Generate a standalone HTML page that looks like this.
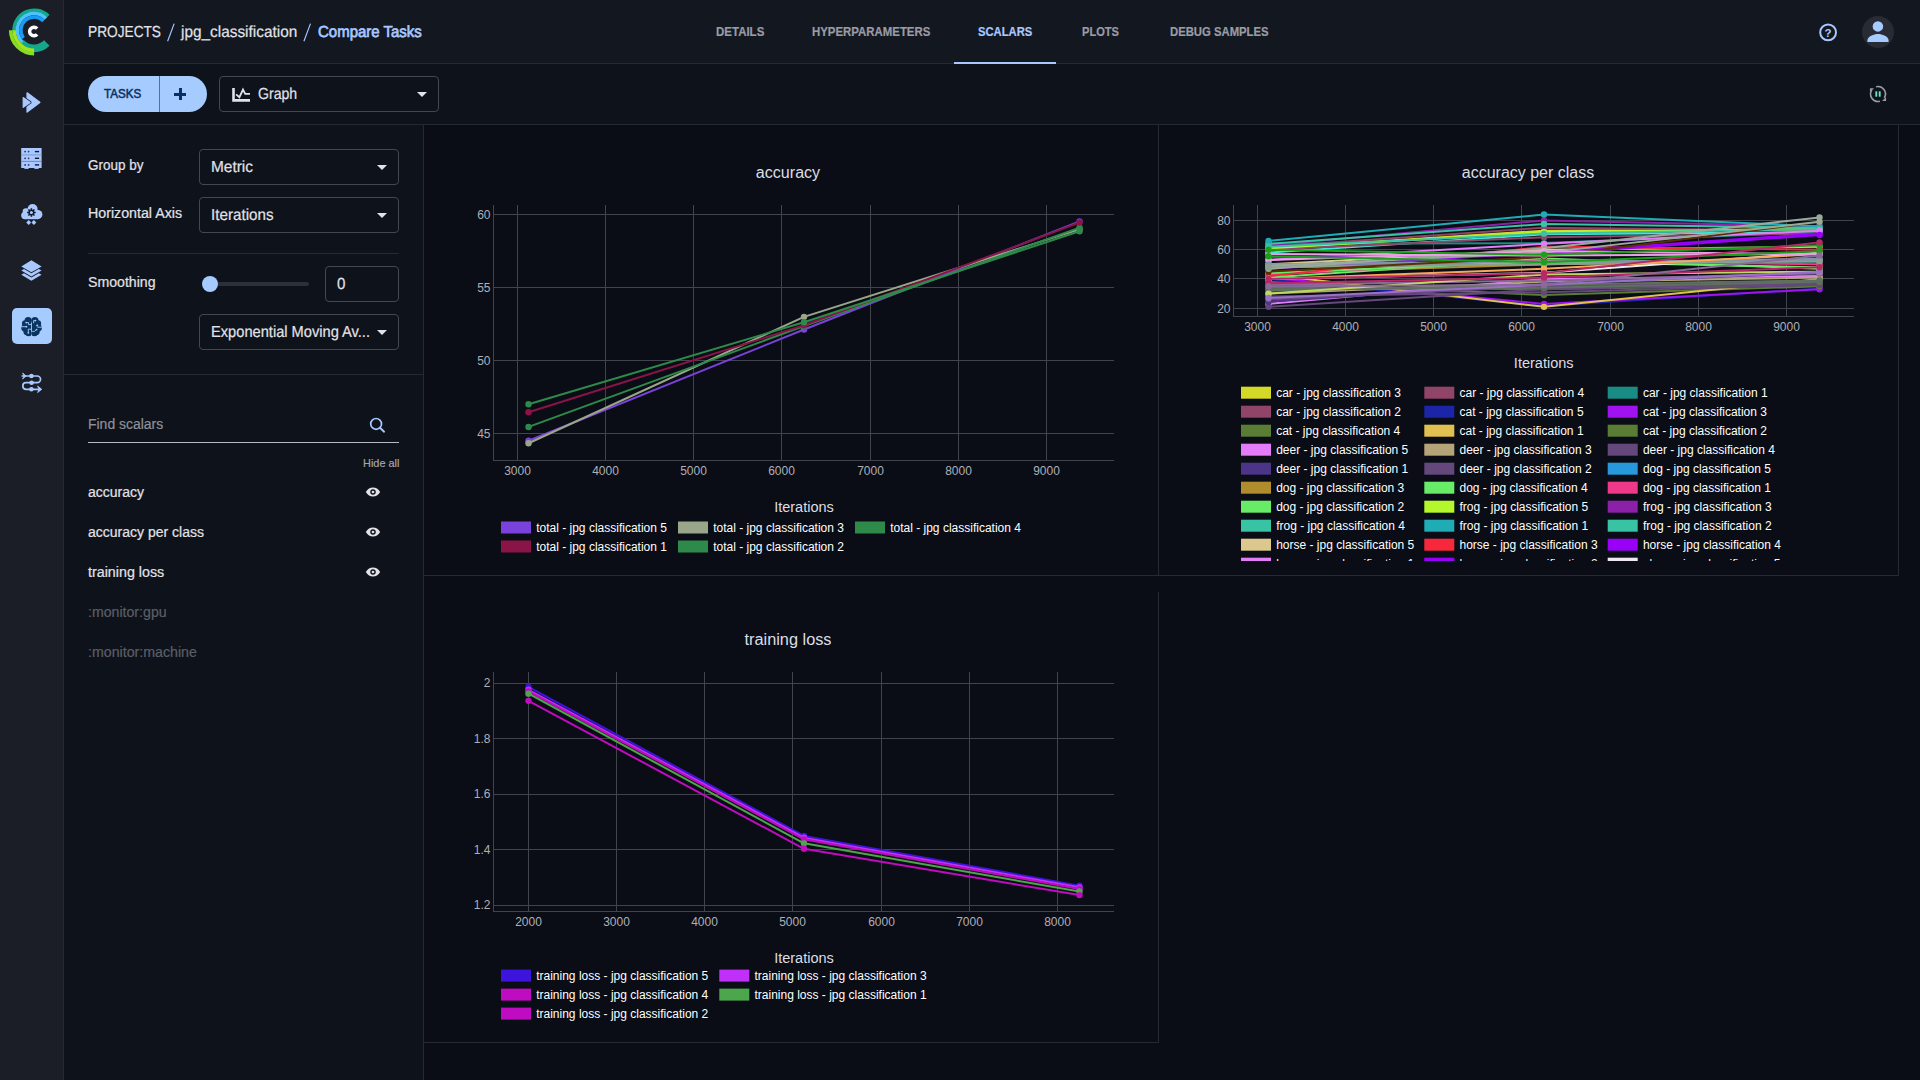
<!DOCTYPE html>
<html><head><meta charset="utf-8"><title>ClearML</title>
<style>
html,body{margin:0;padding:0;background:#0e121a;width:1920px;height:1080px;overflow:hidden;font-family:"Liberation Sans",sans-serif;}
.t{position:absolute;height:20px;line-height:20px;white-space:nowrap;transform-origin:0 50%;-webkit-text-stroke:0.2px currentColor;}
</style></head><body>
<div style="position:absolute;left:0px;top:0px;width:1920px;height:1080px;background:#0e121a"></div>
<div style="position:absolute;left:424px;top:125px;width:1496px;height:955px;background:#0a0d15"></div>
<div style="position:absolute;left:64px;top:0px;width:1856px;height:63px;background:#131720"></div>
<div style="position:absolute;left:64px;top:63px;width:1856px;height:1px;background:#252934"></div>
<div style="position:absolute;left:64px;top:124px;width:1856px;height:1px;background:#252934"></div>
<div style="position:absolute;left:0px;top:0px;width:63px;height:1080px;background:#1b1e26"></div>
<div style="position:absolute;left:63px;top:0px;width:1px;height:1080px;background:#252934"></div>
<div style="position:absolute;left:423px;top:125px;width:1px;height:955px;background:#252934"></div>
<div style="position:absolute;left:64px;top:374px;width:359px;height:1px;background:#252934"></div>
<div style="position:absolute;left:1158px;top:125px;width:1px;height:451px;background:#252934"></div>
<div style="position:absolute;left:424px;top:575px;width:1475px;height:1px;background:#252934"></div>
<div style="position:absolute;left:1898px;top:125px;width:1px;height:451px;background:#252934"></div>
<div style="position:absolute;left:1158px;top:592px;width:1px;height:451px;background:#252934"></div>
<div style="position:absolute;left:424px;top:1042px;width:735px;height:1px;background:#252934"></div>
<div class="t" style="left:88.25px;top:23px;font-size:16px;color:#e2e2e9;transform-origin:0 15px;transform:scale(0.8554,1.0000);text-rendering:geometricPrecision;">PROJECTS</div>
<svg style="position:absolute;left:160px;top:18px" width="160" height="28" viewBox="160 18 160 28"><path d="M167.6 41.2 L174.2 23.6" stroke="#a8c8ff" stroke-width="1.15"/><path d="M303.9 41.2 L310.5 23.6" stroke="#a8c8ff" stroke-width="1.15"/></svg>
<div class="t" style="left:181.25px;top:23px;font-size:16px;color:#e2e2e9;transform-origin:0 15px;transform:scale(0.9612,1.0000);text-rendering:geometricPrecision;">jpg_classification</div>
<div class="t" style="left:317.75px;top:23px;font-size:16px;color:#a8c8ff;-webkit-text-stroke:0.7px #a8c8ff;transform-origin:0 15px;transform:scale(0.9368,1.0000);text-rendering:geometricPrecision;">Compare Tasks</div>
<div class="t" style="left:715.70px;top:22px;font-size:12px;color:#9a9ca5;font-weight:700;transform-origin:0 14px;transform:scale(0.9575,1.0000);">DETAILS</div>
<div class="t" style="left:811.70px;top:22px;font-size:12px;color:#9a9ca5;font-weight:700;transform-origin:0 14px;transform:scale(0.9505,1.0000);">HYPERPARAMETERS</div>
<div class="t" style="left:977.70px;top:22px;font-size:12px;color:#a8c8ff;font-weight:700;transform-origin:0 14px;transform:scale(0.9362,1.0000);">SCALARS</div>
<div class="t" style="left:1082.30px;top:22px;font-size:12px;color:#9a9ca5;font-weight:700;transform-origin:0 14px;transform:scale(0.9250,1.0000);">PLOTS</div>
<div class="t" style="left:1169.70px;top:22px;font-size:12px;color:#9a9ca5;font-weight:700;transform-origin:0 14px;transform:scale(0.9419,1.0000);">DEBUG SAMPLES</div>
<div style="position:absolute;left:954px;top:62px;width:102px;height:2px;background:#a8c8ff"></div>
<svg style="position:absolute;left:1816px;top:20px" width="24" height="24" viewBox="1816 20 24 24"><circle cx="1828.1" cy="32.4" r="7.9" fill="none" stroke="#a8c8ff" stroke-width="2"/><text x="1828.1" y="36.6" text-anchor="middle" font-family="Liberation Sans" font-weight="700" font-size="11.5" fill="#a8c8ff">?</text></svg>
<div style="position:absolute;left:1862px;top:16px;width:32px;height:32px;background:#282b34;border-radius:50%"></div>
<svg style="position:absolute;left:1862px;top:16px" width="32" height="32" viewBox="0 0 32 32"><circle cx="15.9" cy="10.4" r="5.25" fill="#a6cbff"/><path d="M5.4 26.1 v-1.6 c0-4.4 6.6-6.6 10.6-6.6 s10.6 2.2 10.6 6.6 v1.6z" fill="#a6cbff"/></svg>
<div style="position:absolute;left:88px;top:76px;width:119px;height:36px;background:#a6cbff;border-radius:18px"></div>
<div style="position:absolute;left:159px;top:76px;width:1px;height:36px;background:#6f6b66"></div>
<div class="t" style="left:104.40px;top:84px;font-size:12px;color:#0a305f;-webkit-text-stroke:0.5px #0a305f;transform-origin:0 14px;transform:scale(0.9647,1.0000);">TASKS</div>
<div style="position:absolute;left:174.0px;top:92.7px;width:12.0px;height:3.0px;background:#0a305f"></div>
<div style="position:absolute;left:178.5px;top:88.2px;width:3.0px;height:12.0px;background:#0a305f"></div>
<div style="position:absolute;left:219px;top:76px;width:219px;height:35px;border:1px solid #44474e;border-radius:4px;box-sizing:content-box;width:217.5px;height:34px"></div>
<svg style="position:absolute;left:230px;top:85px" width="24" height="20" viewBox="230 85 24 20"><path d="M233.5 87.9 V100.4 H250" fill="none" stroke="#e2e2e9" stroke-width="2.6"/><path d="M236.1 94.4 L239.4 97.2 L243 89.6 L245.2 93.8 L250 93.8" fill="none" stroke="#e2e2e9" stroke-width="1.8" stroke-linejoin="miter"/></svg>
<div class="t" style="left:258.40px;top:85px;font-size:16px;color:#e2e2e9;transform-origin:0 15px;transform:scale(0.8816,1.0000);text-rendering:geometricPrecision;">Graph</div>
<svg style="position:absolute;left:417px;top:92.0px" width="10" height="5" viewBox="0 0 10 5"><path d="M0 0H10L5 5z" fill="#e2e2e9"/></svg>
<svg style="position:absolute;left:1866px;top:82px" width="24" height="24" viewBox="-12 -12 24 24"><g fill="none" stroke="#9a9ca8" stroke-width="1.6"><path d="M-1.92 -7.15A7.4 7.4 0 0 1 6.28 3.92"/><path d="M1.92 7.15A7.4 7.4 0 0 1 -6.28 -3.92"/></g><path d="M8.05 6.95H4.15L8.05 3.05z" fill="#9a9ca8"/><path d="M-8.05 -5.85H-3.9L-8.05 -1.95z" fill="#9a9ca8"/><rect x="-2.65" y="-2.8" width="1.9" height="5.6" rx="0.6" fill="#6fe0c0"/><rect x="0.75" y="-2.8" width="1.9" height="5.6" rx="0.6" fill="#6fe0c0"/></svg>
<div class="t" style="left:88.00px;top:155px;font-size:14px;color:#e2e2e9;transform-origin:0 15px;transform:scale(0.9639,1.0000);">Group by</div>
<div style="position:absolute;left:199px;top:149px;width:198px;height:34px;border:1px solid #44474e;border-radius:4px"></div>
<div class="t" style="left:211.00px;top:158px;font-size:16px;color:#e2e2e9;transform-origin:0 15px;transform:scale(0.9644,1.0000);text-rendering:geometricPrecision;">Metric</div>
<svg style="position:absolute;left:377px;top:165.0px" width="10" height="5" viewBox="0 0 10 5"><path d="M0 0H10L5 5z" fill="#e2e2e9"/></svg>
<div class="t" style="left:88.00px;top:203px;font-size:14px;color:#e2e2e9;transform-origin:0 15px;transform:scale(1.0152,1.0000);">Horizontal Axis</div>
<div style="position:absolute;left:199px;top:197px;width:198px;height:34px;border:1px solid #44474e;border-radius:4px"></div>
<div class="t" style="left:211.00px;top:206px;font-size:16px;color:#e2e2e9;transform-origin:0 15px;transform:scale(0.9497,1.0000);text-rendering:geometricPrecision;">Iterations</div>
<svg style="position:absolute;left:377px;top:213.0px" width="10" height="5" viewBox="0 0 10 5"><path d="M0 0H10L5 5z" fill="#e2e2e9"/></svg>
<div style="position:absolute;left:88px;top:253px;width:311px;height:1px;background:#252934"></div>
<div class="t" style="left:88.00px;top:272px;font-size:14px;color:#e2e2e9;transform-origin:0 15px;transform:scale(1.0086,1.0000);">Smoothing</div>
<div style="position:absolute;left:210px;top:282px;width:99px;height:4px;background:#2c3039;border-radius:2px"></div>
<div style="position:absolute;left:202px;top:276px;width:16px;height:16px;background:#a6cbff;border-radius:50%"></div>
<div style="position:absolute;left:325px;top:266px;width:72px;height:34px;border:1px solid #44474e;border-radius:4px"></div>
<div class="t" style="left:337.00px;top:275px;font-size:16px;color:#e2e2e9;transform-origin:0 15px;transform:scale(0.9441,1.0000);text-rendering:geometricPrecision;">0</div>
<div style="position:absolute;left:199px;top:314px;width:198px;height:34px;border:1px solid #44474e;border-radius:4px"></div>
<div class="t" style="left:211.00px;top:323px;font-size:16px;color:#e2e2e9;transform-origin:0 15px;transform:scale(0.9152,1.0000);text-rendering:geometricPrecision;">Exponential Moving Av...</div>
<svg style="position:absolute;left:377px;top:330.0px" width="10" height="5" viewBox="0 0 10 5"><path d="M0 0H10L5 5z" fill="#e2e2e9"/></svg>
<div class="t" style="left:88.20px;top:414px;font-size:14px;color:#8e9099;transform-origin:0 15px;transform:scale(0.9965,1.0000);">Find scalars</div>
<svg style="position:absolute;left:366px;top:414px" width="24" height="24" viewBox="366 414 24 24"><circle cx="376.1" cy="423.9" r="5.4" fill="none" stroke="#a8c8ff" stroke-width="1.7"/><path d="M380 427.8 L384.1 431.7" stroke="#a8c8ff" stroke-width="1.9" stroke-linecap="round"/></svg>
<div style="position:absolute;left:88px;top:442px;width:311px;height:1px;background:#b9bbc4"></div>
<div class="t" style="left:362.60px;top:453px;font-size:11px;color:#a3a5ae;transform-origin:0 14px;transform:scale(0.9923,1.0000);">Hide all</div>
<div class="t" style="left:88.00px;top:482px;font-size:14px;color:#e2e2e9;">accuracy</div>
<svg style="position:absolute;left:365px;top:486.2px" width="16" height="12" viewBox="-8 -6 16 12"><path d="M-7.15 0 C-5.4 -3.2 -2.8 -4.45 0 -4.45 S5.4 -3.2 7.15 0 C5.4 3.2 2.8 4.45 0 4.45 S-5.4 3.2 -7.15 0z" fill="#e2e2e9"/><circle cx="0" cy="0" r="2.75" fill="#0e121a"/><circle cx="0" cy="0" r="1.35" fill="#e2e2e9"/></svg>
<div class="t" style="left:88.00px;top:522px;font-size:14px;color:#e2e2e9;">accuracy per class</div>
<svg style="position:absolute;left:365px;top:526.2px" width="16" height="12" viewBox="-8 -6 16 12"><path d="M-7.15 0 C-5.4 -3.2 -2.8 -4.45 0 -4.45 S5.4 -3.2 7.15 0 C5.4 3.2 2.8 4.45 0 4.45 S-5.4 3.2 -7.15 0z" fill="#e2e2e9"/><circle cx="0" cy="0" r="2.75" fill="#0e121a"/><circle cx="0" cy="0" r="1.35" fill="#e2e2e9"/></svg>
<div class="t" style="left:88.00px;top:562px;font-size:14px;color:#e2e2e9;transform-origin:0 15px;transform:scale(1.0201,1.0000);">training loss</div>
<svg style="position:absolute;left:365px;top:566.2px" width="16" height="12" viewBox="-8 -6 16 12"><path d="M-7.15 0 C-5.4 -3.2 -2.8 -4.45 0 -4.45 S5.4 -3.2 7.15 0 C5.4 3.2 2.8 4.45 0 4.45 S-5.4 3.2 -7.15 0z" fill="#e2e2e9"/><circle cx="0" cy="0" r="2.75" fill="#0e121a"/><circle cx="0" cy="0" r="1.35" fill="#e2e2e9"/></svg>
<div class="t" style="left:88.00px;top:602px;font-size:14px;color:#5c5e67;transform-origin:0 15px;transform:scale(1.0101,1.0000);">:monitor:gpu</div>
<div class="t" style="left:88.00px;top:642px;font-size:14px;color:#5c5e67;transform-origin:0 15px;transform:scale(1.0142,1.0000);">:monitor:machine</div>
<svg style="position:absolute;left:0;top:0" width="1920" height="1080" viewBox="0 0 1920 1080" font-family="Liberation Sans, sans-serif"><path d="M517.5 205V460" stroke="#41444d" stroke-width="1"/>
<text x="517.50" y="474.80" font-size="12" fill="#aeb0b9" text-anchor="middle">3000</text>
<path d="M605.5 205V460" stroke="#41444d" stroke-width="1"/>
<text x="605.50" y="474.80" font-size="12" fill="#aeb0b9" text-anchor="middle">4000</text>
<path d="M693.5 205V460" stroke="#41444d" stroke-width="1"/>
<text x="693.50" y="474.80" font-size="12" fill="#aeb0b9" text-anchor="middle">5000</text>
<path d="M781.5 205V460" stroke="#41444d" stroke-width="1"/>
<text x="781.50" y="474.80" font-size="12" fill="#aeb0b9" text-anchor="middle">6000</text>
<path d="M870.5 205V460" stroke="#41444d" stroke-width="1"/>
<text x="870.50" y="474.80" font-size="12" fill="#aeb0b9" text-anchor="middle">7000</text>
<path d="M958.5 205V460" stroke="#41444d" stroke-width="1"/>
<text x="958.50" y="474.80" font-size="12" fill="#aeb0b9" text-anchor="middle">8000</text>
<path d="M1046.5 205V460" stroke="#41444d" stroke-width="1"/>
<text x="1046.50" y="474.80" font-size="12" fill="#aeb0b9" text-anchor="middle">9000</text>
<path d="M493 433.5H1114" stroke="#41444d" stroke-width="1"/>
<text x="490.50" y="437.74" font-size="12" fill="#aeb0b9" text-anchor="end">45</text>
<path d="M493 360.5H1114" stroke="#41444d" stroke-width="1"/>
<text x="490.50" y="364.74" font-size="12" fill="#aeb0b9" text-anchor="end">50</text>
<path d="M493 287.5H1114" stroke="#41444d" stroke-width="1"/>
<text x="490.50" y="291.74" font-size="12" fill="#aeb0b9" text-anchor="end">55</text>
<path d="M493 214.5H1114" stroke="#41444d" stroke-width="1"/>
<text x="490.50" y="218.74" font-size="12" fill="#aeb0b9" text-anchor="end">60</text>
<path d="M493.5 205V461" stroke="#41444d" stroke-width="1"/>
<path d="M493 460.5H1114" stroke="#41444d" stroke-width="1"/>
<path d="M528.52 440.80 L804.02 329.55 L1079.52 221.36" fill="none" stroke="#7a42dc" stroke-width="2" stroke-linejoin="round"/>
<circle cx="528.52" cy="440.80" r="3.2" fill="#7a42dc"/>
<circle cx="804.02" cy="329.55" r="3.2" fill="#7a42dc"/>
<circle cx="1079.52" cy="221.36" r="3.2" fill="#7a42dc"/>
<path d="M528.52 443.28 L804.02 316.85 L1079.52 229.39" fill="none" stroke="#9aa68a" stroke-width="2" stroke-linejoin="round"/>
<circle cx="528.52" cy="443.28" r="3.2" fill="#9aa68a"/>
<circle cx="804.02" cy="316.85" r="3.2" fill="#9aa68a"/>
<circle cx="1079.52" cy="229.39" r="3.2" fill="#9aa68a"/>
<path d="M528.52 426.93 L804.02 326.04 L1079.52 227.64" fill="none" stroke="#2e8a4a" stroke-width="2" stroke-linejoin="round"/>
<circle cx="528.52" cy="426.93" r="3.2" fill="#2e8a4a"/>
<circle cx="804.02" cy="326.04" r="3.2" fill="#2e8a4a"/>
<circle cx="1079.52" cy="227.64" r="3.2" fill="#2e8a4a"/>
<path d="M528.52 412.18 L804.02 325.31 L1079.52 222.53" fill="none" stroke="#8a1448" stroke-width="2" stroke-linejoin="round"/>
<circle cx="528.52" cy="412.18" r="3.2" fill="#8a1448"/>
<circle cx="804.02" cy="325.31" r="3.2" fill="#8a1448"/>
<circle cx="1079.52" cy="222.53" r="3.2" fill="#8a1448"/>
<path d="M528.52 404.30 L804.02 322.25 L1079.52 231.29" fill="none" stroke="#2e8a4a" stroke-width="2" stroke-linejoin="round"/>
<circle cx="528.52" cy="404.30" r="3.2" fill="#2e8a4a"/>
<circle cx="804.02" cy="322.25" r="3.2" fill="#2e8a4a"/>
<circle cx="1079.52" cy="231.29" r="3.2" fill="#2e8a4a"/>
<text x="788.00" y="177.60" font-size="16" fill="#dddde5" text-anchor="middle" textLength="64.30" lengthAdjust="spacingAndGlyphs">accuracy</text>
<text x="804.00" y="511.80" font-size="14" fill="#dddde5" text-anchor="middle" textLength="59.70" lengthAdjust="spacingAndGlyphs">Iterations</text>
<rect x="501" y="521.5" width="30" height="12" fill="#7a42dc"/>
<text x="536.20" y="531.80" font-size="12" fill="#ffffff" text-anchor="start">total - jpg classification 5</text>
<rect x="678" y="521.5" width="30" height="12" fill="#9aa68a"/>
<text x="713.20" y="531.80" font-size="12" fill="#ffffff" text-anchor="start">total - jpg classification 3</text>
<rect x="855" y="521.5" width="30" height="12" fill="#2e8a4a"/>
<text x="890.20" y="531.80" font-size="12" fill="#ffffff" text-anchor="start">total - jpg classification 4</text>
<rect x="501" y="540.5" width="30" height="12" fill="#8a1448"/>
<text x="536.20" y="550.80" font-size="12" fill="#ffffff" text-anchor="start">total - jpg classification 1</text>
<rect x="678" y="540.5" width="30" height="12" fill="#2e8a4a"/>
<text x="713.20" y="550.80" font-size="12" fill="#ffffff" text-anchor="start">total - jpg classification 2</text>
<path d="M528.5 672V911" stroke="#41444d" stroke-width="1"/>
<text x="528.50" y="925.80" font-size="12" fill="#aeb0b9" text-anchor="middle">2000</text>
<path d="M616.5 672V911" stroke="#41444d" stroke-width="1"/>
<text x="616.50" y="925.80" font-size="12" fill="#aeb0b9" text-anchor="middle">3000</text>
<path d="M704.5 672V911" stroke="#41444d" stroke-width="1"/>
<text x="704.50" y="925.80" font-size="12" fill="#aeb0b9" text-anchor="middle">4000</text>
<path d="M792.5 672V911" stroke="#41444d" stroke-width="1"/>
<text x="792.50" y="925.80" font-size="12" fill="#aeb0b9" text-anchor="middle">5000</text>
<path d="M881.5 672V911" stroke="#41444d" stroke-width="1"/>
<text x="881.50" y="925.80" font-size="12" fill="#aeb0b9" text-anchor="middle">6000</text>
<path d="M969.5 672V911" stroke="#41444d" stroke-width="1"/>
<text x="969.50" y="925.80" font-size="12" fill="#aeb0b9" text-anchor="middle">7000</text>
<path d="M1057.5 672V911" stroke="#41444d" stroke-width="1"/>
<text x="1057.50" y="925.80" font-size="12" fill="#aeb0b9" text-anchor="middle">8000</text>
<path d="M493 905.5H1114" stroke="#41444d" stroke-width="1"/>
<text x="490.50" y="909.34" font-size="12" fill="#aeb0b9" text-anchor="end">1.2</text>
<path d="M493 849.5H1114" stroke="#41444d" stroke-width="1"/>
<text x="490.50" y="853.84" font-size="12" fill="#aeb0b9" text-anchor="end">1.4</text>
<path d="M493 794.5H1114" stroke="#41444d" stroke-width="1"/>
<text x="490.50" y="798.34" font-size="12" fill="#aeb0b9" text-anchor="end">1.6</text>
<path d="M493 738.5H1114" stroke="#41444d" stroke-width="1"/>
<text x="490.50" y="742.84" font-size="12" fill="#aeb0b9" text-anchor="end">1.8</text>
<path d="M493 683.5H1114" stroke="#41444d" stroke-width="1"/>
<text x="490.50" y="687.34" font-size="12" fill="#aeb0b9" text-anchor="end">2</text>
<path d="M493.5 672V912" stroke="#41444d" stroke-width="1"/>
<path d="M493 911.5H1114" stroke="#41444d" stroke-width="1"/>
<path d="M528.50 686.99 L804.00 835.86 L1079.50 885.67" fill="none" stroke="#3c14dc" stroke-width="2" stroke-linejoin="round"/>
<circle cx="528.50" cy="686.99" r="3.2" fill="#3c14dc"/>
<circle cx="804.00" cy="835.86" r="3.2" fill="#3c14dc"/>
<circle cx="1079.50" cy="885.67" r="3.2" fill="#3c14dc"/>
<path d="M528.50 689.76 L804.00 837.67 L1079.50 887.34" fill="none" stroke="#c030f8" stroke-width="2" stroke-linejoin="round"/>
<circle cx="528.50" cy="689.76" r="3.2" fill="#c030f8"/>
<circle cx="804.00" cy="837.67" r="3.2" fill="#c030f8"/>
<circle cx="1079.50" cy="887.34" r="3.2" fill="#c030f8"/>
<path d="M528.50 691.42 L804.00 839.33 L1079.50 889.00" fill="none" stroke="#c00cc0" stroke-width="2" stroke-linejoin="round"/>
<circle cx="528.50" cy="691.42" r="3.2" fill="#c00cc0"/>
<circle cx="804.00" cy="839.33" r="3.2" fill="#c00cc0"/>
<circle cx="1079.50" cy="889.00" r="3.2" fill="#c00cc0"/>
<path d="M528.50 693.64 L804.00 843.36 L1079.50 891.50" fill="none" stroke="#4ca64c" stroke-width="2" stroke-linejoin="round"/>
<circle cx="528.50" cy="693.64" r="3.2" fill="#4ca64c"/>
<circle cx="804.00" cy="843.36" r="3.2" fill="#4ca64c"/>
<circle cx="1079.50" cy="891.50" r="3.2" fill="#4ca64c"/>
<path d="M528.50 700.86 L804.00 848.77 L1079.50 895.11" fill="none" stroke="#c00cc0" stroke-width="2" stroke-linejoin="round"/>
<circle cx="528.50" cy="700.86" r="3.2" fill="#c00cc0"/>
<circle cx="804.00" cy="848.77" r="3.2" fill="#c00cc0"/>
<circle cx="1079.50" cy="895.11" r="3.2" fill="#c00cc0"/>
<text x="788.00" y="645.00" font-size="16" fill="#dddde5" text-anchor="middle" textLength="87.00" lengthAdjust="spacingAndGlyphs">training loss</text>
<text x="804.00" y="962.70" font-size="14" fill="#dddde5" text-anchor="middle" textLength="59.70" lengthAdjust="spacingAndGlyphs">Iterations</text>
<rect x="501" y="969.6" width="30" height="12" fill="#3c14dc"/>
<text x="536.20" y="979.90" font-size="12" fill="#ffffff" text-anchor="start">training loss - jpg classification 5</text>
<rect x="719.3" y="969.6" width="30" height="12" fill="#c030f8"/>
<text x="754.50" y="979.90" font-size="12" fill="#ffffff" text-anchor="start">training loss - jpg classification 3</text>
<rect x="501" y="988.6" width="30" height="12" fill="#c00cc0"/>
<text x="536.20" y="998.90" font-size="12" fill="#ffffff" text-anchor="start">training loss - jpg classification 4</text>
<rect x="719.3" y="988.6" width="30" height="12" fill="#4ca64c"/>
<text x="754.50" y="998.90" font-size="12" fill="#ffffff" text-anchor="start">training loss - jpg classification 1</text>
<rect x="501" y="1007.6" width="30" height="12" fill="#c00cc0"/>
<text x="536.20" y="1017.90" font-size="12" fill="#ffffff" text-anchor="start">training loss - jpg classification 2</text>
<path d="M1257.5 205V316" stroke="#41444d" stroke-width="1"/>
<text x="1257.50" y="330.80" font-size="12" fill="#aeb0b9" text-anchor="middle">3000</text>
<path d="M1345.5 205V316" stroke="#41444d" stroke-width="1"/>
<text x="1345.50" y="330.80" font-size="12" fill="#aeb0b9" text-anchor="middle">4000</text>
<path d="M1433.5 205V316" stroke="#41444d" stroke-width="1"/>
<text x="1433.50" y="330.80" font-size="12" fill="#aeb0b9" text-anchor="middle">5000</text>
<path d="M1521.5 205V316" stroke="#41444d" stroke-width="1"/>
<text x="1521.50" y="330.80" font-size="12" fill="#aeb0b9" text-anchor="middle">6000</text>
<path d="M1610.5 205V316" stroke="#41444d" stroke-width="1"/>
<text x="1610.50" y="330.80" font-size="12" fill="#aeb0b9" text-anchor="middle">7000</text>
<path d="M1698.5 205V316" stroke="#41444d" stroke-width="1"/>
<text x="1698.50" y="330.80" font-size="12" fill="#aeb0b9" text-anchor="middle">8000</text>
<path d="M1786.5 205V316" stroke="#41444d" stroke-width="1"/>
<text x="1786.50" y="330.80" font-size="12" fill="#aeb0b9" text-anchor="middle">9000</text>
<path d="M1233 308.5H1854" stroke="#41444d" stroke-width="1"/>
<text x="1230.50" y="312.53" font-size="12" fill="#aeb0b9" text-anchor="end">20</text>
<path d="M1233 278.5H1854" stroke="#41444d" stroke-width="1"/>
<text x="1230.50" y="283.23" font-size="12" fill="#aeb0b9" text-anchor="end">40</text>
<path d="M1233 249.5H1854" stroke="#41444d" stroke-width="1"/>
<text x="1230.50" y="253.93" font-size="12" fill="#aeb0b9" text-anchor="end">60</text>
<path d="M1233 220.5H1854" stroke="#41444d" stroke-width="1"/>
<text x="1230.50" y="224.63" font-size="12" fill="#aeb0b9" text-anchor="end">80</text>
<path d="M1233.5 205V317" stroke="#41444d" stroke-width="1"/>
<path d="M1233 316.5H1854" stroke="#41444d" stroke-width="1"/>
<path d="M1268.52 252.62 L1544.02 234.31 L1819.52 232.11" fill="none" stroke="#40e8d8" stroke-width="2" stroke-linejoin="round"/>
<circle cx="1268.52" cy="252.62" r="3.2" fill="#40e8d8"/>
<circle cx="1544.02" cy="234.31" r="3.2" fill="#40e8d8"/>
<circle cx="1819.52" cy="232.11" r="3.2" fill="#40e8d8"/>
<path d="M1268.52 248.23 L1544.02 230.65 L1819.52 229.18" fill="none" stroke="#d4d827" stroke-width="2" stroke-linejoin="round"/>
<circle cx="1268.52" cy="248.23" r="3.2" fill="#d4d827"/>
<circle cx="1544.02" cy="230.65" r="3.2" fill="#d4d827"/>
<circle cx="1819.52" cy="229.18" r="3.2" fill="#d4d827"/>
<path d="M1268.52 246.76 L1544.02 227.72 L1819.52 230.65" fill="none" stroke="#8f4468" stroke-width="2" stroke-linejoin="round"/>
<circle cx="1268.52" cy="246.76" r="3.2" fill="#8f4468"/>
<circle cx="1544.02" cy="227.72" r="3.2" fill="#8f4468"/>
<circle cx="1819.52" cy="230.65" r="3.2" fill="#8f4468"/>
<path d="M1268.52 243.83 L1544.02 243.10 L1819.52 232.11" fill="none" stroke="#198c84" stroke-width="2" stroke-linejoin="round"/>
<circle cx="1268.52" cy="243.83" r="3.2" fill="#198c84"/>
<circle cx="1544.02" cy="243.10" r="3.2" fill="#198c84"/>
<circle cx="1819.52" cy="232.11" r="3.2" fill="#198c84"/>
<path d="M1268.52 249.69 L1544.02 237.24 L1819.52 233.58" fill="none" stroke="#8f4468" stroke-width="2" stroke-linejoin="round"/>
<circle cx="1268.52" cy="249.69" r="3.2" fill="#8f4468"/>
<circle cx="1544.02" cy="237.24" r="3.2" fill="#8f4468"/>
<circle cx="1819.52" cy="233.58" r="3.2" fill="#8f4468"/>
<path d="M1268.52 278.99 L1544.02 306.09 L1819.52 288.51" fill="none" stroke="#1c24a8" stroke-width="2" stroke-linejoin="round"/>
<circle cx="1268.52" cy="278.99" r="3.2" fill="#1c24a8"/>
<circle cx="1544.02" cy="306.09" r="3.2" fill="#1c24a8"/>
<circle cx="1819.52" cy="288.51" r="3.2" fill="#1c24a8"/>
<path d="M1268.52 277.53 L1544.02 303.90 L1819.52 289.25" fill="none" stroke="#a012f0" stroke-width="2" stroke-linejoin="round"/>
<circle cx="1268.52" cy="277.53" r="3.2" fill="#a012f0"/>
<circle cx="1544.02" cy="303.90" r="3.2" fill="#a012f0"/>
<circle cx="1819.52" cy="289.25" r="3.2" fill="#a012f0"/>
<path d="M1268.52 281.92 L1544.02 295.11 L1819.52 286.31" fill="none" stroke="#5a7c34" stroke-width="2" stroke-linejoin="round"/>
<circle cx="1268.52" cy="281.92" r="3.2" fill="#5a7c34"/>
<circle cx="1544.02" cy="295.11" r="3.2" fill="#5a7c34"/>
<circle cx="1819.52" cy="286.31" r="3.2" fill="#5a7c34"/>
<path d="M1268.52 274.60 L1544.02 306.83 L1819.52 278.99" fill="none" stroke="#e0c050" stroke-width="2" stroke-linejoin="round"/>
<circle cx="1268.52" cy="274.60" r="3.2" fill="#e0c050"/>
<circle cx="1544.02" cy="306.83" r="3.2" fill="#e0c050"/>
<circle cx="1819.52" cy="278.99" r="3.2" fill="#e0c050"/>
<path d="M1268.52 287.78 L1544.02 289.25 L1819.52 284.85" fill="none" stroke="#5a7c34" stroke-width="2" stroke-linejoin="round"/>
<circle cx="1268.52" cy="287.78" r="3.2" fill="#5a7c34"/>
<circle cx="1544.02" cy="289.25" r="3.2" fill="#5a7c34"/>
<circle cx="1819.52" cy="284.85" r="3.2" fill="#5a7c34"/>
<path d="M1268.52 303.90 L1544.02 278.99 L1819.52 276.06" fill="none" stroke="#e47cfa" stroke-width="2" stroke-linejoin="round"/>
<circle cx="1268.52" cy="303.90" r="3.2" fill="#e47cfa"/>
<circle cx="1544.02" cy="278.99" r="3.2" fill="#e47cfa"/>
<circle cx="1819.52" cy="276.06" r="3.2" fill="#e47cfa"/>
<path d="M1268.52 293.64 L1544.02 281.92 L1819.52 277.53" fill="none" stroke="#b4a478" stroke-width="2" stroke-linejoin="round"/>
<circle cx="1268.52" cy="293.64" r="3.2" fill="#b4a478"/>
<circle cx="1544.02" cy="281.92" r="3.2" fill="#b4a478"/>
<circle cx="1819.52" cy="277.53" r="3.2" fill="#b4a478"/>
<path d="M1268.52 306.83 L1544.02 289.25 L1819.52 283.38" fill="none" stroke="#64487c" stroke-width="2" stroke-linejoin="round"/>
<circle cx="1268.52" cy="306.83" r="3.2" fill="#64487c"/>
<circle cx="1544.02" cy="289.25" r="3.2" fill="#64487c"/>
<circle cx="1819.52" cy="283.38" r="3.2" fill="#64487c"/>
<path d="M1268.52 301.70 L1544.02 283.38 L1819.52 273.13" fill="none" stroke="#4c3488" stroke-width="2" stroke-linejoin="round"/>
<circle cx="1268.52" cy="301.70" r="3.2" fill="#4c3488"/>
<circle cx="1544.02" cy="283.38" r="3.2" fill="#4c3488"/>
<circle cx="1819.52" cy="273.13" r="3.2" fill="#4c3488"/>
<path d="M1268.52 299.50 L1544.02 286.31 L1819.52 281.92" fill="none" stroke="#64487c" stroke-width="2" stroke-linejoin="round"/>
<circle cx="1268.52" cy="299.50" r="3.2" fill="#64487c"/>
<circle cx="1544.02" cy="286.31" r="3.2" fill="#64487c"/>
<circle cx="1819.52" cy="281.92" r="3.2" fill="#64487c"/>
<path d="M1268.52 267.27 L1544.02 261.41 L1819.52 261.41" fill="none" stroke="#2898dc" stroke-width="2" stroke-linejoin="round"/>
<circle cx="1268.52" cy="267.27" r="3.2" fill="#2898dc"/>
<circle cx="1544.02" cy="261.41" r="3.2" fill="#2898dc"/>
<circle cx="1819.52" cy="261.41" r="3.2" fill="#2898dc"/>
<path d="M1268.52 273.13 L1544.02 264.34 L1819.52 259.94" fill="none" stroke="#b08c2c" stroke-width="2" stroke-linejoin="round"/>
<circle cx="1268.52" cy="273.13" r="3.2" fill="#b08c2c"/>
<circle cx="1544.02" cy="264.34" r="3.2" fill="#b08c2c"/>
<circle cx="1819.52" cy="259.94" r="3.2" fill="#b08c2c"/>
<path d="M1268.52 277.53 L1544.02 258.48 L1819.52 268.74" fill="none" stroke="#68ec68" stroke-width="2" stroke-linejoin="round"/>
<circle cx="1268.52" cy="277.53" r="3.2" fill="#68ec68"/>
<circle cx="1544.02" cy="258.48" r="3.2" fill="#68ec68"/>
<circle cx="1819.52" cy="268.74" r="3.2" fill="#68ec68"/>
<path d="M1268.52 274.60 L1544.02 259.94 L1819.52 264.34" fill="none" stroke="#f03888" stroke-width="2" stroke-linejoin="round"/>
<circle cx="1268.52" cy="274.60" r="3.2" fill="#f03888"/>
<circle cx="1544.02" cy="259.94" r="3.2" fill="#f03888"/>
<circle cx="1819.52" cy="264.34" r="3.2" fill="#f03888"/>
<path d="M1268.52 273.13 L1544.02 261.41 L1819.52 267.27" fill="none" stroke="#68ec68" stroke-width="2" stroke-linejoin="round"/>
<circle cx="1268.52" cy="273.13" r="3.2" fill="#68ec68"/>
<circle cx="1544.02" cy="261.41" r="3.2" fill="#68ec68"/>
<circle cx="1819.52" cy="267.27" r="3.2" fill="#68ec68"/>
<path d="M1268.52 248.23 L1544.02 232.11 L1819.52 229.18" fill="none" stroke="#b4f82c" stroke-width="2" stroke-linejoin="round"/>
<circle cx="1268.52" cy="248.23" r="3.2" fill="#b4f82c"/>
<circle cx="1544.02" cy="232.11" r="3.2" fill="#b4f82c"/>
<circle cx="1819.52" cy="229.18" r="3.2" fill="#b4f82c"/>
<path d="M1268.52 245.30 L1544.02 220.39 L1819.52 226.25" fill="none" stroke="#8c20a8" stroke-width="2" stroke-linejoin="round"/>
<circle cx="1268.52" cy="245.30" r="3.2" fill="#8c20a8"/>
<circle cx="1544.02" cy="220.39" r="3.2" fill="#8c20a8"/>
<circle cx="1819.52" cy="226.25" r="3.2" fill="#8c20a8"/>
<path d="M1268.52 243.83 L1544.02 224.05 L1819.52 227.72" fill="none" stroke="#38c4a4" stroke-width="2" stroke-linejoin="round"/>
<circle cx="1268.52" cy="243.83" r="3.2" fill="#38c4a4"/>
<circle cx="1544.02" cy="224.05" r="3.2" fill="#38c4a4"/>
<circle cx="1819.52" cy="227.72" r="3.2" fill="#38c4a4"/>
<path d="M1268.52 240.90 L1544.02 214.53 L1819.52 226.25" fill="none" stroke="#20acb4" stroke-width="2" stroke-linejoin="round"/>
<circle cx="1268.52" cy="240.90" r="3.2" fill="#20acb4"/>
<circle cx="1544.02" cy="214.53" r="3.2" fill="#20acb4"/>
<circle cx="1819.52" cy="226.25" r="3.2" fill="#20acb4"/>
<path d="M1268.52 246.76 L1544.02 233.58 L1819.52 229.18" fill="none" stroke="#38c4a4" stroke-width="2" stroke-linejoin="round"/>
<circle cx="1268.52" cy="246.76" r="3.2" fill="#38c4a4"/>
<circle cx="1544.02" cy="233.58" r="3.2" fill="#38c4a4"/>
<circle cx="1819.52" cy="229.18" r="3.2" fill="#38c4a4"/>
<path d="M1268.52 264.34 L1544.02 249.69 L1819.52 246.76" fill="none" stroke="#dcc88c" stroke-width="2" stroke-linejoin="round"/>
<circle cx="1268.52" cy="264.34" r="3.2" fill="#dcc88c"/>
<circle cx="1544.02" cy="249.69" r="3.2" fill="#dcc88c"/>
<circle cx="1819.52" cy="246.76" r="3.2" fill="#dcc88c"/>
<path d="M1268.52 276.06 L1544.02 246.76 L1819.52 249.69" fill="none" stroke="#f8283c" stroke-width="2" stroke-linejoin="round"/>
<circle cx="1268.52" cy="276.06" r="3.2" fill="#f8283c"/>
<circle cx="1544.02" cy="246.76" r="3.2" fill="#f8283c"/>
<circle cx="1819.52" cy="249.69" r="3.2" fill="#f8283c"/>
<path d="M1268.52 268.74 L1544.02 252.62 L1819.52 233.58" fill="none" stroke="#9800f8" stroke-width="2" stroke-linejoin="round"/>
<circle cx="1268.52" cy="268.74" r="3.2" fill="#9800f8"/>
<circle cx="1544.02" cy="252.62" r="3.2" fill="#9800f8"/>
<circle cx="1819.52" cy="233.58" r="3.2" fill="#9800f8"/>
<path d="M1268.52 259.94 L1544.02 243.83 L1819.52 230.65" fill="none" stroke="#e47cfa" stroke-width="2" stroke-linejoin="round"/>
<circle cx="1268.52" cy="259.94" r="3.2" fill="#e47cfa"/>
<circle cx="1544.02" cy="243.83" r="3.2" fill="#e47cfa"/>
<circle cx="1819.52" cy="230.65" r="3.2" fill="#e47cfa"/>
<path d="M1268.52 257.01 L1544.02 254.09 L1819.52 235.04" fill="none" stroke="#9800f8" stroke-width="2" stroke-linejoin="round"/>
<circle cx="1268.52" cy="257.01" r="3.2" fill="#9800f8"/>
<circle cx="1544.02" cy="254.09" r="3.2" fill="#9800f8"/>
<circle cx="1819.52" cy="235.04" r="3.2" fill="#9800f8"/>
<path d="M1268.52 296.57 L1544.02 292.18 L1819.52 284.85" fill="none" stroke="#64487c" stroke-width="2" stroke-linejoin="round"/>
<circle cx="1268.52" cy="296.57" r="3.2" fill="#64487c"/>
<circle cx="1544.02" cy="292.18" r="3.2" fill="#64487c"/>
<circle cx="1819.52" cy="284.85" r="3.2" fill="#64487c"/>
<path d="M1268.52 289.25 L1544.02 287.78 L1819.52 281.92" fill="none" stroke="#607060" stroke-width="2" stroke-linejoin="round"/>
<circle cx="1268.52" cy="289.25" r="3.2" fill="#607060"/>
<circle cx="1544.02" cy="287.78" r="3.2" fill="#607060"/>
<circle cx="1819.52" cy="281.92" r="3.2" fill="#607060"/>
<path d="M1268.52 290.71 L1544.02 284.85 L1819.52 280.46" fill="none" stroke="#607060" stroke-width="2" stroke-linejoin="round"/>
<circle cx="1268.52" cy="290.71" r="3.2" fill="#607060"/>
<circle cx="1544.02" cy="284.85" r="3.2" fill="#607060"/>
<circle cx="1819.52" cy="280.46" r="3.2" fill="#607060"/>
<path d="M1268.52 284.85 L1544.02 280.46 L1819.52 273.13" fill="none" stroke="#8a6a9a" stroke-width="2" stroke-linejoin="round"/>
<circle cx="1268.52" cy="284.85" r="3.2" fill="#8a6a9a"/>
<circle cx="1544.02" cy="280.46" r="3.2" fill="#8a6a9a"/>
<circle cx="1819.52" cy="273.13" r="3.2" fill="#8a6a9a"/>
<path d="M1268.52 278.99 L1544.02 272.84 L1819.52 252.62" fill="none" stroke="#f0e8f0" stroke-width="2" stroke-linejoin="round"/>
<circle cx="1268.52" cy="278.99" r="3.2" fill="#f0e8f0"/>
<circle cx="1544.02" cy="272.84" r="3.2" fill="#f0e8f0"/>
<circle cx="1819.52" cy="252.62" r="3.2" fill="#f0e8f0"/>
<path d="M1268.52 265.81 L1544.02 264.34 L1819.52 258.48" fill="none" stroke="#8094a8" stroke-width="2" stroke-linejoin="round"/>
<circle cx="1268.52" cy="265.81" r="3.2" fill="#8094a8"/>
<circle cx="1544.02" cy="264.34" r="3.2" fill="#8094a8"/>
<circle cx="1819.52" cy="258.48" r="3.2" fill="#8094a8"/>
<path d="M1268.52 264.34 L1544.02 261.41 L1819.52 259.94" fill="none" stroke="#8094a8" stroke-width="2" stroke-linejoin="round"/>
<circle cx="1268.52" cy="264.34" r="3.2" fill="#8094a8"/>
<circle cx="1544.02" cy="261.41" r="3.2" fill="#8094a8"/>
<circle cx="1819.52" cy="259.94" r="3.2" fill="#8094a8"/>
<path d="M1268.52 267.27 L1544.02 264.34 L1819.52 261.41" fill="none" stroke="#8aa08a" stroke-width="2" stroke-linejoin="round"/>
<circle cx="1268.52" cy="267.27" r="3.2" fill="#8aa08a"/>
<circle cx="1544.02" cy="264.34" r="3.2" fill="#8aa08a"/>
<circle cx="1819.52" cy="261.41" r="3.2" fill="#8aa08a"/>
<path d="M1268.52 271.67 L1544.02 257.01 L1819.52 221.86" fill="none" stroke="#5a3000" stroke-width="2" stroke-linejoin="round"/>
<circle cx="1268.52" cy="271.67" r="3.2" fill="#5a3000"/>
<circle cx="1544.02" cy="257.01" r="3.2" fill="#5a3000"/>
<circle cx="1819.52" cy="221.86" r="3.2" fill="#5a3000"/>
<path d="M1268.52 268.74 L1544.02 248.23 L1819.52 217.46" fill="none" stroke="#9aaa9a" stroke-width="2" stroke-linejoin="round"/>
<circle cx="1268.52" cy="268.74" r="3.2" fill="#9aaa9a"/>
<circle cx="1544.02" cy="248.23" r="3.2" fill="#9aaa9a"/>
<circle cx="1819.52" cy="217.46" r="3.2" fill="#9aaa9a"/>
<path d="M1268.52 265.81 L1544.02 252.62 L1819.52 221.86" fill="none" stroke="#9aaa9a" stroke-width="2" stroke-linejoin="round"/>
<circle cx="1268.52" cy="265.81" r="3.2" fill="#9aaa9a"/>
<circle cx="1544.02" cy="252.62" r="3.2" fill="#9aaa9a"/>
<circle cx="1819.52" cy="221.86" r="3.2" fill="#9aaa9a"/>
<path d="M1268.52 293.64 L1544.02 274.60 L1819.52 271.67" fill="none" stroke="#c0d860" stroke-width="2" stroke-linejoin="round"/>
<circle cx="1268.52" cy="293.64" r="3.2" fill="#c0d860"/>
<circle cx="1544.02" cy="274.60" r="3.2" fill="#c0d860"/>
<circle cx="1819.52" cy="271.67" r="3.2" fill="#c0d860"/>
<path d="M1268.52 298.04 L1544.02 284.85 L1819.52 271.67" fill="none" stroke="#9a70c8" stroke-width="2" stroke-linejoin="round"/>
<circle cx="1268.52" cy="298.04" r="3.2" fill="#9a70c8"/>
<circle cx="1544.02" cy="284.85" r="3.2" fill="#9a70c8"/>
<circle cx="1819.52" cy="271.67" r="3.2" fill="#9a70c8"/>
<path d="M1268.52 278.99 L1544.02 268.74 L1819.52 254.09" fill="none" stroke="#f8a858" stroke-width="2" stroke-linejoin="round"/>
<circle cx="1268.52" cy="278.99" r="3.2" fill="#f8a858"/>
<circle cx="1544.02" cy="268.74" r="3.2" fill="#f8a858"/>
<circle cx="1819.52" cy="254.09" r="3.2" fill="#f8a858"/>
<path d="M1268.52 259.94 L1544.02 251.16 L1819.52 254.09" fill="none" stroke="#e8a0e0" stroke-width="2" stroke-linejoin="round"/>
<circle cx="1268.52" cy="259.94" r="3.2" fill="#e8a0e0"/>
<circle cx="1544.02" cy="251.16" r="3.2" fill="#e8a0e0"/>
<circle cx="1819.52" cy="254.09" r="3.2" fill="#e8a0e0"/>
<path d="M1268.52 254.09 L1544.02 255.55 L1819.52 254.09" fill="none" stroke="#e8a0e0" stroke-width="2" stroke-linejoin="round"/>
<circle cx="1268.52" cy="254.09" r="3.2" fill="#e8a0e0"/>
<circle cx="1544.02" cy="255.55" r="3.2" fill="#e8a0e0"/>
<circle cx="1819.52" cy="254.09" r="3.2" fill="#e8a0e0"/>
<path d="M1268.52 249.69 L1544.02 254.82 L1819.52 245.30" fill="none" stroke="#1ca01c" stroke-width="2" stroke-linejoin="round"/>
<circle cx="1268.52" cy="249.69" r="3.2" fill="#1ca01c"/>
<circle cx="1544.02" cy="254.82" r="3.2" fill="#1ca01c"/>
<circle cx="1819.52" cy="245.30" r="3.2" fill="#1ca01c"/>
<path d="M1268.52 256.28 L1544.02 262.14 L1819.52 251.16" fill="none" stroke="#1ca01c" stroke-width="2" stroke-linejoin="round"/>
<circle cx="1268.52" cy="256.28" r="3.2" fill="#1ca01c"/>
<circle cx="1544.02" cy="262.14" r="3.2" fill="#1ca01c"/>
<circle cx="1819.52" cy="251.16" r="3.2" fill="#1ca01c"/>
<path d="M1268.52 278.99 L1544.02 273.13 L1819.52 242.37" fill="none" stroke="#b82868" stroke-width="2" stroke-linejoin="round"/>
<circle cx="1268.52" cy="278.99" r="3.2" fill="#b82868"/>
<circle cx="1544.02" cy="273.13" r="3.2" fill="#b82868"/>
<circle cx="1819.52" cy="242.37" r="3.2" fill="#b82868"/>
<path d="M1268.52 283.38 L1544.02 277.53 L1819.52 267.27" fill="none" stroke="#b82868" stroke-width="2" stroke-linejoin="round"/>
<circle cx="1268.52" cy="283.38" r="3.2" fill="#b82868"/>
<circle cx="1544.02" cy="277.53" r="3.2" fill="#b82868"/>
<circle cx="1819.52" cy="267.27" r="3.2" fill="#b82868"/>
<path d="M1268.52 286.31 L1544.02 284.85 L1819.52 255.55" fill="none" stroke="#8a6a9a" stroke-width="2" stroke-linejoin="round"/>
<circle cx="1268.52" cy="286.31" r="3.2" fill="#8a6a9a"/>
<circle cx="1544.02" cy="284.85" r="3.2" fill="#8a6a9a"/>
<circle cx="1819.52" cy="255.55" r="3.2" fill="#8a6a9a"/>
<text x="1528.00" y="177.60" font-size="16" fill="#dddde5" text-anchor="middle" textLength="132.30" lengthAdjust="spacingAndGlyphs">accuracy per class</text>
<text x="1543.70" y="367.70" font-size="14" fill="#dddde5" text-anchor="middle" textLength="59.70" lengthAdjust="spacingAndGlyphs">Iterations</text>
<clipPath id="lc2"><rect x="1173" y="380" width="800" height="181"/></clipPath><g clip-path="url(#lc2)">
<rect x="1241" y="386.7" width="30" height="12" fill="#d4d827"/>
<text x="1276.20" y="397.00" font-size="12" fill="#ffffff" text-anchor="start">car - jpg classification 3</text>
<rect x="1424.3" y="386.7" width="30" height="12" fill="#8f4468"/>
<text x="1459.50" y="397.00" font-size="12" fill="#ffffff" text-anchor="start">car - jpg classification 4</text>
<rect x="1607.7" y="386.7" width="30" height="12" fill="#198c84"/>
<text x="1642.90" y="397.00" font-size="12" fill="#ffffff" text-anchor="start">car - jpg classification 1</text>
<rect x="1241" y="405.7" width="30" height="12" fill="#8f4468"/>
<text x="1276.20" y="416.00" font-size="12" fill="#ffffff" text-anchor="start">car - jpg classification 2</text>
<rect x="1424.3" y="405.7" width="30" height="12" fill="#1c24a8"/>
<text x="1459.50" y="416.00" font-size="12" fill="#ffffff" text-anchor="start">cat - jpg classification 5</text>
<rect x="1607.7" y="405.7" width="30" height="12" fill="#a012f0"/>
<text x="1642.90" y="416.00" font-size="12" fill="#ffffff" text-anchor="start">cat - jpg classification 3</text>
<rect x="1241" y="424.7" width="30" height="12" fill="#5a7c34"/>
<text x="1276.20" y="435.00" font-size="12" fill="#ffffff" text-anchor="start">cat - jpg classification 4</text>
<rect x="1424.3" y="424.7" width="30" height="12" fill="#e0c050"/>
<text x="1459.50" y="435.00" font-size="12" fill="#ffffff" text-anchor="start">cat - jpg classification 1</text>
<rect x="1607.7" y="424.7" width="30" height="12" fill="#5a7c34"/>
<text x="1642.90" y="435.00" font-size="12" fill="#ffffff" text-anchor="start">cat - jpg classification 2</text>
<rect x="1241" y="443.7" width="30" height="12" fill="#e47cfa"/>
<text x="1276.20" y="454.00" font-size="12" fill="#ffffff" text-anchor="start">deer - jpg classification 5</text>
<rect x="1424.3" y="443.7" width="30" height="12" fill="#b4a478"/>
<text x="1459.50" y="454.00" font-size="12" fill="#ffffff" text-anchor="start">deer - jpg classification 3</text>
<rect x="1607.7" y="443.7" width="30" height="12" fill="#64487c"/>
<text x="1642.90" y="454.00" font-size="12" fill="#ffffff" text-anchor="start">deer - jpg classification 4</text>
<rect x="1241" y="462.7" width="30" height="12" fill="#4c3488"/>
<text x="1276.20" y="473.00" font-size="12" fill="#ffffff" text-anchor="start">deer - jpg classification 1</text>
<rect x="1424.3" y="462.7" width="30" height="12" fill="#64487c"/>
<text x="1459.50" y="473.00" font-size="12" fill="#ffffff" text-anchor="start">deer - jpg classification 2</text>
<rect x="1607.7" y="462.7" width="30" height="12" fill="#2898dc"/>
<text x="1642.90" y="473.00" font-size="12" fill="#ffffff" text-anchor="start">dog - jpg classification 5</text>
<rect x="1241" y="481.7" width="30" height="12" fill="#b08c2c"/>
<text x="1276.20" y="492.00" font-size="12" fill="#ffffff" text-anchor="start">dog - jpg classification 3</text>
<rect x="1424.3" y="481.7" width="30" height="12" fill="#68ec68"/>
<text x="1459.50" y="492.00" font-size="12" fill="#ffffff" text-anchor="start">dog - jpg classification 4</text>
<rect x="1607.7" y="481.7" width="30" height="12" fill="#f03888"/>
<text x="1642.90" y="492.00" font-size="12" fill="#ffffff" text-anchor="start">dog - jpg classification 1</text>
<rect x="1241" y="500.7" width="30" height="12" fill="#68ec68"/>
<text x="1276.20" y="511.00" font-size="12" fill="#ffffff" text-anchor="start">dog - jpg classification 2</text>
<rect x="1424.3" y="500.7" width="30" height="12" fill="#b4f82c"/>
<text x="1459.50" y="511.00" font-size="12" fill="#ffffff" text-anchor="start">frog - jpg classification 5</text>
<rect x="1607.7" y="500.7" width="30" height="12" fill="#8c20a8"/>
<text x="1642.90" y="511.00" font-size="12" fill="#ffffff" text-anchor="start">frog - jpg classification 3</text>
<rect x="1241" y="519.7" width="30" height="12" fill="#38c4a4"/>
<text x="1276.20" y="530.00" font-size="12" fill="#ffffff" text-anchor="start">frog - jpg classification 4</text>
<rect x="1424.3" y="519.7" width="30" height="12" fill="#20acb4"/>
<text x="1459.50" y="530.00" font-size="12" fill="#ffffff" text-anchor="start">frog - jpg classification 1</text>
<rect x="1607.7" y="519.7" width="30" height="12" fill="#38c4a4"/>
<text x="1642.90" y="530.00" font-size="12" fill="#ffffff" text-anchor="start">frog - jpg classification 2</text>
<rect x="1241" y="538.7" width="30" height="12" fill="#dcc88c"/>
<text x="1276.20" y="549.00" font-size="12" fill="#ffffff" text-anchor="start">horse - jpg classification 5</text>
<rect x="1424.3" y="538.7" width="30" height="12" fill="#f8283c"/>
<text x="1459.50" y="549.00" font-size="12" fill="#ffffff" text-anchor="start">horse - jpg classification 3</text>
<rect x="1607.7" y="538.7" width="30" height="12" fill="#9800f8"/>
<text x="1642.90" y="549.00" font-size="12" fill="#ffffff" text-anchor="start">horse - jpg classification 4</text>
<rect x="1241" y="557.7" width="30" height="12" fill="#e47cfa"/>
<text x="1276.20" y="568.00" font-size="12" fill="#ffffff" text-anchor="start">horse - jpg classification 1</text>
<rect x="1424.3" y="557.7" width="30" height="12" fill="#9800f8"/>
<text x="1459.50" y="568.00" font-size="12" fill="#ffffff" text-anchor="start">horse - jpg classification 2</text>
<rect x="1607.7" y="557.7" width="30" height="12" fill="#f0e8f0"/>
<text x="1642.90" y="568.00" font-size="12" fill="#ffffff" text-anchor="start">plane - jpg classification 5</text>
</g>
<circle cx="1268.52" cy="264.34" r="3.2" fill="#8094a8"/>
<circle cx="1268.52" cy="267.27" r="3.2" fill="#8aa08a"/></svg>
<svg style="position:absolute;left:0;top:0" width="64" height="420" viewBox="0 0 64 420">
<path d="M46.83 43.03A18.0 18.0 0 0 1 21.15 42.80" fill="none" stroke="#14a88a" stroke-width="7.7"/>
<path d="M48.31 16.09A20.1 20.1 0 0 0 14.01 31.00" fill="none" stroke="#14a88a" stroke-width="3.5"/>
<path d="M45.91 18.49A16.7 16.7 0 1 0 22.50 42.31" fill="none" stroke="#4cc3ff" stroke-width="3.5"/>
<path d="M43.50 20.90A13.3 13.3 0 0 0 23.34 38.12" fill="none" stroke="#189cf4" stroke-width="3.5"/>
<path d="M10.70 30.30A23.4 23.4 0 0 0 34.10 53.70" fill="none" stroke="#86de22" stroke-width="3.6"/>
<path d="M14.10 30.30A20.0 20.0 0 0 0 34.10 50.30" fill="none" stroke="#a6e21e" stroke-width="3.4"/>
<path d="M37.10 28.62A4.3 4.3 0 1 0 37.10 34.38" fill="none" stroke="#ffffff" stroke-width="3.5"/>
<path d="M27.1 92.9 L39.8 102.4 L27.1 112 Z" fill="#a8c8ff" stroke="#a8c8ff" stroke-width="1.4" stroke-linejoin="round"/>
<path d="M23.2 97.5 L30.2 102.4 L23.2 107.3 Z" fill="#a8c8ff" stroke="#1b1e26" stroke-width="2.7" stroke-linejoin="round"/>
<path d="M23.2 97.5 L30.2 102.4 L23.2 107.3 Z" fill="#a8c8ff" stroke="#a8c8ff" stroke-width="1.2" stroke-linejoin="round"/>
<rect x="21.2" y="148" width="20.4" height="20" fill="#a8c8ff"/>
<rect x="24.4" y="168" width="4.3" height="0.9" fill="#a8c8ff"/><rect x="34.4" y="168" width="4.3" height="0.9" fill="#a8c8ff"/>
<rect x="21.2" y="154.4" width="20.4" height="1" fill="#7f9bd0"/><rect x="21.2" y="160.9" width="20.4" height="1" fill="#6f88b8"/>
<circle cx="25.1" cy="151.6" r="0.85" fill="#1d2a55"/><circle cx="28.6" cy="151.6" r="0.85" fill="#3a3055"/><rect x="34.9" y="150.9" width="4.2" height="1.4" fill="#151a2a"/>
<circle cx="25.1" cy="158.3" r="0.85" fill="#1d2a55"/><circle cx="28.6" cy="158.3" r="0.85" fill="#3a3055"/><rect x="34.9" y="157.60000000000002" width="4.2" height="1.4" fill="#151a2a"/>
<circle cx="25.1" cy="164.9" r="0.85" fill="#1d2a55"/><circle cx="28.6" cy="164.9" r="0.85" fill="#3a3055"/><rect x="34.9" y="164.20000000000002" width="4.2" height="1.4" fill="#151a2a"/>
<g fill="#a8c8ff"><circle cx="32.6" cy="209" r="5"/><circle cx="26" cy="211.6" r="3.3"/><circle cx="24.9" cy="215.5" r="3.7"/><circle cx="37.8" cy="214.6" r="4.6"/><rect x="24.9" y="211" width="13" height="8.2"/></g>
<path d="M33.40 212.50L35.70 212.50" stroke="#161a2a" stroke-width="1.5"/><path d="M32.81 213.91L34.44 215.54" stroke="#161a2a" stroke-width="1.5"/><path d="M31.40 214.50L31.40 216.80" stroke="#161a2a" stroke-width="1.5"/><path d="M29.99 213.91L28.36 215.54" stroke="#161a2a" stroke-width="1.5"/><path d="M29.40 212.50L27.10 212.50" stroke="#161a2a" stroke-width="1.5"/><path d="M29.99 211.09L28.36 209.46" stroke="#161a2a" stroke-width="1.5"/><path d="M31.40 210.50L31.40 208.20" stroke="#161a2a" stroke-width="1.5"/><path d="M32.81 211.09L34.44 209.46" stroke="#161a2a" stroke-width="1.5"/>
<circle cx="31.4" cy="212.5" r="2.3" fill="#a8c8ff" stroke="#161a2a" stroke-width="1.5"/>
<path d="M28.7 219.9 L31.2 222.4 L28.7 224.9 L26.2 222.4Z" fill="#a8c8ff"/>
<path d="M25.8 222.4 H27.5 M29.9 222.4 H31.599999999999998" stroke="#1b1e26" stroke-width="0.1"/>
<path d="M33.9 219.9 L36.4 222.4 L33.9 224.9 L31.4 222.4Z" fill="#a8c8ff"/>
<path d="M31.0 222.4 H32.699999999999996 M35.1 222.4 H36.8" stroke="#1b1e26" stroke-width="0.1"/>
<path d="M21.3 266.5 L31.4 260.2 L41.6 266.5 L31.4 272.2Z" fill="#a8c8ff"/>
<path d="M21.3 270.5 L24.0 269.0 L31.4 273.3 L38.8 269.0 L41.6 270.5 L31.4 276.4Z" fill="#a8c8ff"/>
<path d="M21.3 274.8 L24.0 273.3 L31.4 277.6 L38.8 273.3 L41.6 274.8 L31.4 280.7Z" fill="#a8c8ff"/>
<rect x="12" y="308" width="40" height="36" rx="5" fill="#a6cbff"/>
<circle cx="28.150000000000002" cy="320.6" r="3.6" fill="#0b3561"/><circle cx="25.25" cy="323.6" r="3.3" fill="#0b3561"/><circle cx="24.65" cy="327.9" r="3.4" fill="#0b3561"/><circle cx="26.950000000000003" cy="331.6" r="3.6" fill="#0b3561"/><circle cx="28.55" cy="333.3" r="3.0" fill="#0b3561"/><rect x="26.55" y="318.2" width="4.55" height="17.4" fill="#0b3561"/>
<circle cx="34.95" cy="320.6" r="3.6" fill="#0b3561"/><circle cx="37.85" cy="323.6" r="3.3" fill="#0b3561"/><circle cx="38.45" cy="327.9" r="3.4" fill="#0b3561"/><circle cx="36.15" cy="331.6" r="3.6" fill="#0b3561"/><circle cx="34.55" cy="333.3" r="3.0" fill="#0b3561"/><rect x="32.0" y="318.2" width="4.55" height="17.4" fill="#0b3561"/>
<g stroke="#a8c8ff" stroke-width="0.9" fill="none"><path d="M21 326.7H26.2"/><path d="M26.4 322.6H28.6V324.6H31"/><path d="M28.3 332.6V329.2H31"/><path d="M35.2 320.6H33.6V323.2"/><path d="M42 327.2H37.4"/><path d="M32.2 331.4H34.4L36.2 329.8"/></g>
<g fill="#a8c8ff"><circle cx="26.4" cy="326.7" r="0.9"/><circle cx="26.2" cy="322.6" r="0.9"/><circle cx="28.3" cy="332.8" r="0.9"/><circle cx="35.4" cy="320.6" r="0.9"/><circle cx="37.2" cy="325.4" r="1.0"/><circle cx="36.6" cy="329.6" r="0.9"/></g>
<path d="M21.6 376 H37.2 A3.35 3.35 0 0 1 37.2 382.7 H26.1 A3.3 3.3 0 0 0 26.1 389.3 H40.5" fill="none" stroke="#a8c8ff" stroke-width="1.7"/>
<g fill="#a8c8ff"><circle cx="31.4" cy="376" r="2.3"/><circle cx="31.6" cy="382.7" r="2.3"/><circle cx="31.4" cy="389.3" r="2.3"/></g>
<path d="M22.6 373 L26.2 376 L22.6 379 L24 376Z" fill="#a8c8ff" stroke="#a8c8ff" stroke-width="0.8" stroke-linejoin="round"/>
<path d="M37.6 386 L41.8 389.3 L37.6 392.6 L39 389.3Z" fill="#a8c8ff" stroke="#a8c8ff" stroke-width="0.8" stroke-linejoin="round"/>
</svg>
</body></html>
